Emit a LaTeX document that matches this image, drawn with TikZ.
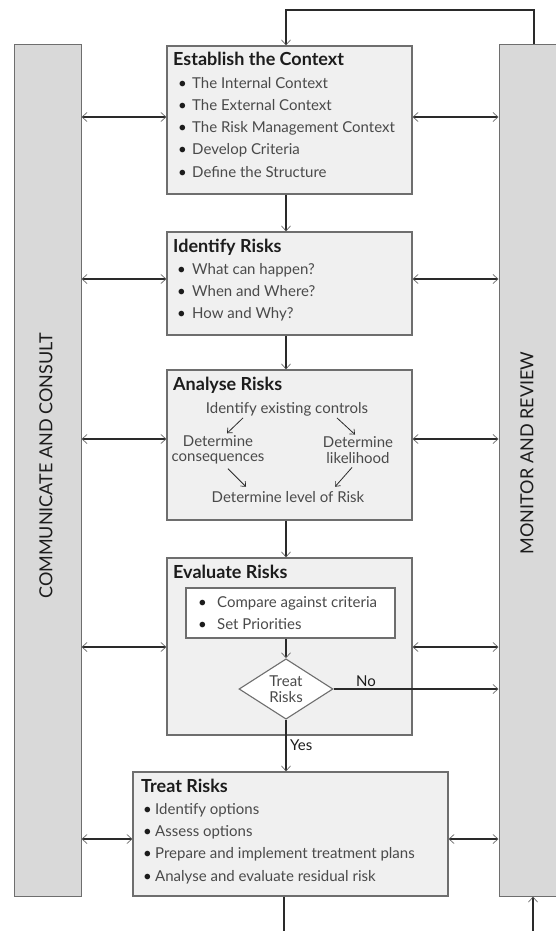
\documentclass[tikz,border=0pt]{standalone}
\usepackage{fontspec}
\setmainfont{Lato}
\usetikzlibrary{arrows.meta,shapes.geometric}
\definecolor{riskline}{HTML}{2A2A2A}
\definecolor{risktip}{HTML}{6A6A6A}
\definecolor{riskedge}{HTML}{6E6E6E}
\definecolor{riskbar}{HTML}{D9D9D9}
\definecolor{riskbox}{HTML}{F0F0F0}
\definecolor{riskink}{HTML}{1C1C1C}
\definecolor{riskmuted}{HTML}{4A4A4A}
\newcommand{\bul}[1]{\makebox[#1][l]{\textcolor{riskink}{\textbullet}}}

\begin{document}
\begin{tikzpicture}[
  x=1pt,
  y=-1pt,
  >={Straight Barb[length=5pt,width=9pt,line width=0.7pt,color=risktip]},
  bar/.style={draw=riskedge, fill=riskbar, line width=1pt, inner sep=0pt},
  stage/.style={draw=riskedge, fill=riskbox, line width=1.1pt, inner sep=0pt},
  barlabel/.style={font=\fontsize{18}{20}\selectfont, text=riskink, inner sep=0pt, rotate=90},
  head/.style={font=\fontsize{18}{20}\selectfont\bfseries, text=riskink, anchor=base west, inner sep=0pt},
  item/.style={font=\fontsize{15}{17}\selectfont, text=riskmuted, anchor=base west, inner sep=0pt},
  note/.style={font=\fontsize{15}{15.5}\selectfont, text=riskmuted, align=center, inner sep=0pt},
  decide/.style={diamond, draw=riskedge, fill=white, line width=1.1pt, minimum width=94pt, minimum height=58pt, inner sep=0pt, align=center, font=\fontsize{15}{16}\selectfont, text=riskmuted},
  tag/.style={font=\fontsize{15}{17}\selectfont, text=riskink, inner sep=0pt},
  flow/.style={draw=riskline, line width=1.4pt},
  fine/.style={draw=riskline, line width=0.8pt, -{Straight Barb[length=4pt,width=7pt,line width=0.7pt]}}
]
  \clip (0,0) rectangle (556,931);

  % side bars
  \node[bar, minimum width=67pt, minimum height=851pt] (comm) at (47.5,470.5) {};
  \node[bar, minimum width=80pt, minimum height=851pt] (mon) at (539,470.5) {};
  \node[barlabel] (commt) at (46,466) {COMMUNICATE AND CONSULT};
  \node[barlabel] (mont) at (527,453) {MONITOR AND REVIEW};

  % stages
  \node[stage, minimum width=245pt, minimum height=148pt] (est) at (289.5,120) {};
  \node[stage, minimum width=245pt, minimum height=103pt] (idf) at (289.5,283.5) {};
  \node[stage, minimum width=245pt, minimum height=150pt] (ana) at (289.5,445) {};
  \node[stage, minimum width=245pt, minimum height=177pt] (eva) at (289.5,646.5) {};
  \node[stage, minimum width=315pt, minimum height=124pt] (trt) at (290.5,834) {};

  \node[head] (estt) at (173,66) {Establish the Context};
  \foreach \t [count=\i] in {The Internal Context, The External Context,
      The Risk Management Context, Develop Criteria, Define the Structure}
    \node[item] (est-\i) at (178,66+22.2*\i) {\bul{14pt}\t};

  \node[head] (idft) at (173,252) {Identify Risks};
  \foreach \t [count=\i] in {What can happen?, When and Where?, How and Why?}
    \node[item] (idf-\i) at (177,252+22*\i) {\bul{15pt}\t};

  \node[head] (anat) at (173,390) {Analyse Risks};
  \node[note, anchor=base] (ctl) at (287,413) {Identify existing controls};
  \node[note] (csq) at (218,450) {Determine\\consequences};
  \node[note] (lik) at (358,450) {Determine\\likelihood};
  \node[note, anchor=base] (lvl) at (288,502) {Determine level of Risk};
  \draw[fine] ([xshift=-44pt,yshift=-2pt]ctl.south) -- ([xshift=9pt,yshift=2pt]csq.north);
  \draw[fine] ([xshift=50pt,yshift=-2pt]ctl.south) -- ([xshift=-3pt,yshift=2pt]lik.north);
  \draw[fine] ([xshift=10pt,yshift=-4pt]csq.south) -- ([xshift=-42pt,yshift=4pt]lvl.north);
  \draw[fine] ([xshift=-6pt,yshift=-4pt]lik.south) -- ([xshift=47pt,yshift=4pt]lvl.north);

  \node[head] (evat) at (173,578) {Evaluate Risks};
  \node[stage, fill=white, minimum width=209pt, minimum height=50pt] (crit) at (290.5,613) {};
  \foreach \t [count=\i] in {Compare against criteria, Set Priorities}
    \node[item] (crit-\i) at (198,585+22*\i) {\bul{19pt}\t};
  \node[decide] (treatq) at (286,689) {Treat\\Risks};

  \node[head] (trtt) at (141,792) {Treat Risks};
  \foreach \t [count=\i] in {Identify options, Assess options,
      Prepare and implement treatment plans, Analyse and evaluate residual risk}
    \node[item] (trt-\i) at (143,792+22.3*\i) {\bul{12pt}\t};

  % main flow
  \coordinate (spine) at (286,0);
  \coordinate (loop) at (534,10);
  \coordinate (outl) at (284,931);
  \coordinate (inr) at (533,931);
  \draw[flow,->] (mon.north -| loop) -- (loop) -| (est.north -| spine);
  \draw[flow,->] (est.south -| spine) -- (idf.north -| spine);
  \draw[flow,->] (idf.south -| spine) -- (ana.north -| spine);
  \draw[flow,->] (ana.south -| spine) -- (eva.north -| spine);
  \draw[flow,->] (crit.south -| spine) -- (treatq.north);
  \draw[flow,->] (treatq.south) -- (trt.north -| treatq);
  \draw[flow] (trt.south -| outl) -- (outl);
  \draw[flow,->] (inr) -- (inr |- mon.south);
  \draw[flow,->] (treatq.east) -- (treatq.east -| mon.west);
  \node[tag, anchor=base] (no) at (366,686) {No};
  \node[tag, anchor=base west] (yes) at (290,750) {Yes};

  % links to the side bars
  \foreach \b/\s in {est/3, idf/4.5, ana/6, eva/-0.5, trt/-5} {
    \coordinate (\b-l) at ([yshift=\s pt]\b.west);
    \coordinate (\b-r) at ([yshift=\s pt]\b.east);
    \draw[flow,<->] (\b-l -| comm.east) -- (\b-l);
    \draw[flow,<->] (\b-r) -- (\b-r -| mon.west);
  }
\end{tikzpicture}
\end{document}
